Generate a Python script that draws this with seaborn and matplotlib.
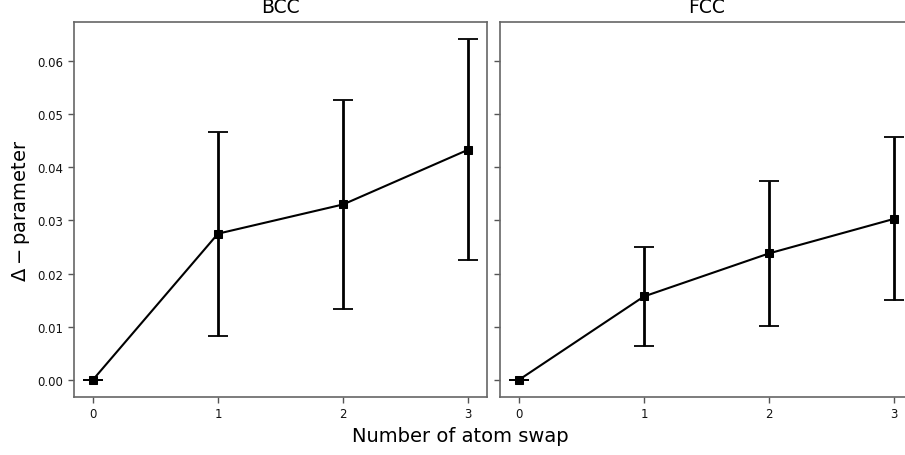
import numpy as np
import pandas as pd
import matplotlib
matplotlib.use("Agg")
import matplotlib.pyplot as plt
import seaborn as sns

swaps = [0, 1, 2, 3]
bcc_mean = [0.0, 0.0275, 0.0330, 0.0433]
bcc_err = [0.0, 0.0192, 0.0196, 0.0208]
fcc_mean = [0.0, 0.0157, 0.0238, 0.0303]
fcc_err = [0.0, 0.0093, 0.0136, 0.0153]
panels = ["BCC", "FCC"]

sns.set_style("white")
plt.rcParams['font.family'] = ['DejaVu Sans']
plt.rcParams['text.color'] = 'black'
plt.rcParams['axes.labelcolor'] = 'black'

fig = plt.figure(figsize=(9.05, 4.56), dpi=100)
axL = fig.add_axes([0.0818, 0.1272, 0.4564, 0.8224])
axR = fig.add_axes([0.5525, 0.1272, 0.4564, 0.8224], sharey=axL)

data = {"BCC": (bcc_mean, bcc_err), "FCC": (fcc_mean, fcc_err)}
for ax, name in zip([axL, axR], panels):
    m, e = data[name]
    df = pd.DataFrame({"swap": swaps, "val": m})
    ax.errorbar(swaps, m, yerr=e, fmt='none', ecolor='black', elinewidth=2,
                capsize=7, capthick=1.3, zorder=2)
    sns.lineplot(data=df, x="swap", y="val", ax=ax, color='black', marker='s',
                 markersize=6, markeredgecolor='black', linewidth=1.5, zorder=3)
    ax.set_title(name, fontsize=13.5, color='black', pad=7)
    ax.set_xlabel("")
    ax.set_xticks(swaps)
    ax.tick_params(axis='both', which='both', direction='out', length=4, width=1,
                   color='#555555', labelsize=8.5, labelcolor='#111111',
                   left=True, bottom=True)
    for sp in ax.spines.values():
        sp.set_color('#666666')
        sp.set_linewidth(1.2)

axL.set_ylabel(r"$\Delta-$parameter", fontsize=14, color='black')
axR.set_ylabel("")
plt.setp(axR.get_yticklabels(), visible=False)
axL.set_yticks([0.0, 0.01, 0.02, 0.03, 0.04, 0.05, 0.06])
axL.set_yticklabels(["0.00", "0.01", "0.02", "0.03", "0.04", "0.05", "0.06"])
fig.text(0.509, 0.042, "Number of atom swap", ha='center', va='center',
         fontsize=14, color='black')

fig.savefig("out.png", dpi=100)
